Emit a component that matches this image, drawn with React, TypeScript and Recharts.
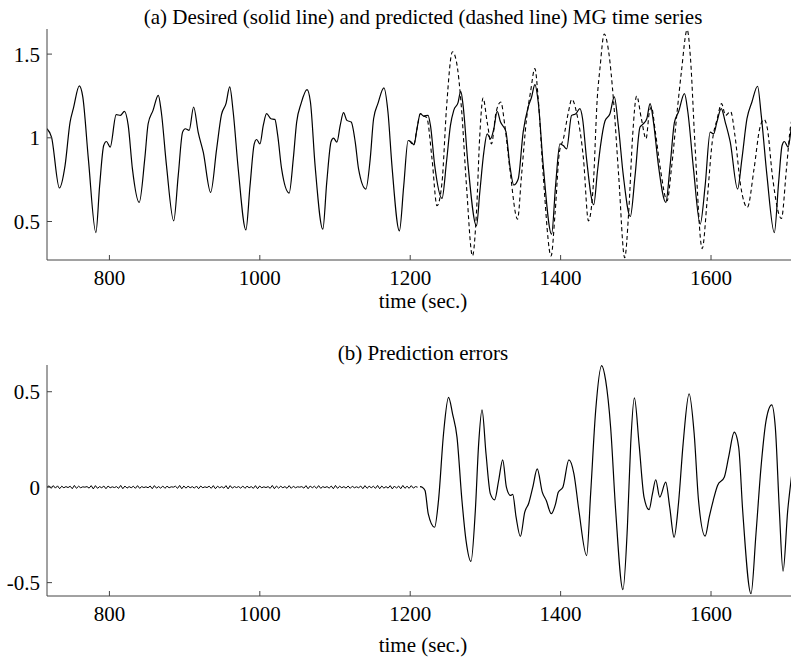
import { Line, LineChart, XAxis, YAxis } from "recharts";

const FONT = "'Liberation Serif', 'DejaVu Serif', serif";

const timeTicks = [800, 1000, 1200, 1400, 1600];
const seriesTicks = [0.5, 1, 1.5];
const errorTicks = [-0.5, 0, 0.5];

// desired MG series (solid), [time, value]
const desired: [number, number][] = [
  [717, 1.054], [723, 1.004], [733.5, 0.7], [741, 0.834], [747.7, 1.094], [752, 1.174],
  [760, 1.31], [764.6, 1.244], [772, 0.874], [782, 0.434], [787, 0.714], [792.4, 0.954],
  [796, 0.978], [801, 0.944], [809, 1.138], [814.6, 1.134], [820, 1.158], [825, 1.074],
  [830.6, 0.814], [839.6, 0.614], [847, 0.874], [851.5, 1.084], [858, 1.164], [865, 1.254],
  [869, 1.154], [875.9, 0.834], [885.5, 0.504], [891.5, 0.774], [897.3, 1.034], [901, 1.054],
  [906, 1.044], [912, 1.184], [918, 1.034], [924.8, 0.914], [934.6, 0.674], [942.6, 0.934],
  [949, 1.138], [955, 1.204], [960, 1.304], [964.6, 1.154], [971.3, 0.814], [981.5, 0.45],
  [987, 0.714], [992.6, 0.964], [995.8, 0.99], [1000.2, 0.964], [1004.6, 1.074], [1009, 1.144],
  [1014.8, 1.114], [1020, 1.11], [1023.8, 1.014], [1029, 0.814], [1039, 0.67], [1044.5, 0.874],
  [1049, 1.094], [1054.8, 1.204], [1062.8, 1.288], [1067.3, 1.214], [1073.5, 0.834], [1083.8, 0.454],
  [1089, 0.734], [1094.8, 0.978], [1098, 0.998], [1102.5, 0.974], [1106.9, 1.074], [1111.3, 1.15],
  [1115.8, 1.104], [1121.5, 1.094], [1126.9, 0.974], [1131.3, 0.814], [1141, 0.694], [1146.8, 0.874],
  [1151.3, 1.114], [1157, 1.204], [1165, 1.298], [1170.4, 1.154], [1175.7, 0.834], [1185.6, 0.444],
  [1191.4, 0.714], [1197.2, 0.984], [1201.6, 0.974], [1205, 0.958], [1209, 1.054], [1213.5, 1.144],
  [1217.9, 1.13], [1223.7, 1.134], [1226.9, 1.074], [1232.6, 0.834], [1242.3, 0.638], [1248.2, 0.854],
  [1253.5, 1.074], [1257.9, 1.164], [1263.6, 1.21], [1267.2, 1.278], [1270.3, 1.194], [1277, 0.834],
  [1288.1, 0.474], [1292.5, 0.674], [1297.9, 0.914], [1302.3, 1.024], [1306.8, 0.994], [1311.2, 1.054],
  [1315.6, 1.158], [1320.1, 1.094], [1327.2, 1.038], [1332.5, 0.834], [1337.8, 0.718], [1343.6, 0.754],
  [1350.2, 1.034], [1356.9, 1.184], [1361.4, 1.244], [1365.8, 1.318], [1370.2, 1.214], [1376.9, 0.834],
  [1388, 0.424], [1393.3, 0.714], [1399.1, 0.964], [1403.5, 0.954], [1408, 0.934], [1414.6, 1.134],
  [1420.3, 1.144], [1425.7, 1.174], [1429.2, 1.114], [1434.5, 0.874], [1444, 0.6], [1449, 0.8],
  [1453, 0.95], [1459, 1.1], [1465.6, 1.144], [1471.4, 1.244], [1476.7, 1.074], [1483.4, 0.774],
  [1492.7, 0.53], [1499, 0.774], [1505.6, 1.064], [1510.1, 1.084], [1514.6, 1.114], [1519, 1.204],
  [1523.5, 1.094], [1530.1, 0.834], [1539.9, 0.614], [1545.6, 0.834], [1551.4, 1.094], [1556.7, 1.154],
  [1564.7, 1.264], [1569.2, 1.154], [1576.7, 0.814], [1585.6, 0.484], [1592.2, 0.714], [1598.9, 1.034],
  [1603.4, 1.024], [1607.8, 1.094], [1613.6, 1.174], [1618.9, 1.094], [1625.6, 0.974], [1635.3, 0.694],
  [1641.1, 0.874], [1647.8, 1.114], [1654.4, 1.214], [1661.9, 1.308], [1666.8, 1.134], [1674.4, 0.774],
  [1684.2, 0.434], [1689.9, 0.734], [1694.5, 0.954], [1697.5, 0.978], [1702.5, 0.944], [1707, 1.064],
  [1712, 1.15],
];

// predicted series (dashed), only where it leaves the desired one
const predicted: [number, number][] = [
  [1199, 0.984], [1204.6, 0.958], [1209, 1.054], [1213.5, 1.144], [1217.9, 1.13], [1222, 1.12],
  [1229, 0.874], [1235.6, 0.594], [1242.3, 0.734], [1248.2, 1.174], [1256.2, 1.514], [1261.5, 1.454],
  [1268.2, 1.174], [1274.8, 0.714], [1282.8, 0.294], [1288.1, 0.554], [1292.5, 1.014], [1296.9, 1.238],
  [1302.3, 1.094], [1308.1, 0.964], [1313.8, 1.144], [1320.4, 1.214], [1325.8, 1.074], [1332.5, 0.814],
  [1342.7, 0.514], [1348, 0.774], [1354.7, 1.114], [1360, 1.274], [1365.8, 1.414], [1370.2, 1.234],
  [1376.9, 0.774], [1387.3, 0.294], [1392.7, 0.554], [1398.4, 0.914], [1403.7, 0.994], [1410.4, 1.154],
  [1414.9, 1.23], [1421.5, 1.144], [1430.4, 0.874], [1437, 0.504], [1443.4, 0.714], [1448.7, 1.234],
  [1452.3, 1.414], [1458, 1.62], [1463.9, 1.514], [1470.5, 1.214], [1477.2, 0.774], [1485.2, 0.284],
  [1490.5, 0.554], [1495.8, 1.014], [1501.1, 1.25], [1507.4, 1.114], [1513.6, 0.994], [1518, 1.154],
  [1520.7, 1.184], [1526, 1.034], [1532.7, 0.814], [1541.6, 0.624], [1547.3, 0.814], [1554.9, 1.154],
  [1560.6, 1.394], [1568.3, 1.645], [1572.7, 1.474], [1578.5, 0.974], [1588.3, 0.338], [1595, 0.634],
  [1601.6, 0.974], [1608.3, 1.114], [1614, 1.204], [1619.4, 1.134], [1626, 1.158], [1631.8, 1.014],
  [1639.4, 0.714], [1648.3, 0.584], [1657.2, 0.814], [1664.7, 1.054], [1670.5, 1.11], [1675, 1.054],
  [1681.6, 0.774], [1693.6, 0.518], [1700.3, 0.814], [1706, 1.074], [1712, 1.15],
];

// training-part error: tiny ripple, sampled every 2.8 s from t = 717
const rippleStart = 717;
const rippleStep = 2.8;
const ripple = [
  0.0, 0.007, -0.006, 0.008, -0.005, 0.007, -0.008, 0.005, -0.003, 0.003,
  -0.002, 0.005, -0.008, 0.009, -0.006, 0.005, -0.003, 0.002, 0.0, 0.003,
  -0.005, 0.008, -0.009, 0.008, -0.006, 0.003, -0.003, 0.006, -0.008, 0.006,
  -0.003, 0.002, -0.002, 0.003, -0.006, 0.009, -0.008, 0.006, -0.005, 0.003,
  -0.003, 0.005, -0.006, 0.008, -0.006, 0.003, -0.002, 0.002, -0.003, 0.006,
  -0.008, 0.008, -0.005, 0.003, -0.005, 0.006, -0.006, 0.005, -0.003, 0.002,
  0.0, 0.005, -0.006, 0.009, -0.008, 0.006, -0.005, 0.005, -0.003, 0.003,
  -0.005, 0.006, -0.008, 0.006, -0.003, 0.002, -0.002, 0.005, -0.006, 0.008,
  -0.008, 0.005, -0.003, 0.003, -0.005, 0.008, -0.009, 0.008, -0.005, 0.003,
  -0.002, 0.003, -0.005, 0.006, -0.006, 0.005, -0.003, 0.003, -0.006, 0.008,
  -0.008, 0.006, -0.003, 0.002, -0.002, 0.003, -0.006, 0.009, -0.008, 0.006,
  -0.005, 0.005, -0.003, 0.003, -0.006, 0.008, -0.006, 0.005, -0.003, 0.002,
  0.0, 0.003, -0.005, 0.008, -0.008, 0.006, -0.003, 0.005, -0.006, 0.008,
  -0.006, 0.003, -0.002, 0.003, -0.005, 0.006, -0.008, 0.009, -0.006, 0.005,
  -0.003, 0.003, -0.005, 0.006, -0.006, 0.005, -0.003, 0.002, -0.003, 0.006,
  -0.008, 0.008, -0.006, 0.005, -0.003, 0.005, -0.006, 0.009, -0.008, 0.006,
  -0.005, 0.003, -0.005, 0.008, -0.009, 0.006, -0.005, 0.006, -0.008, 0.009,
  -0.006, 0.005, -0.006, 0.008, -0.005, 0.003, 0.0,
];

// prediction error after training, [time, value]
const errors: [number, number][] = [
  [1213, 0.003], [1216, 0], [1219.7, -0.017], [1224, -0.14], [1232.4, -0.21], [1237.6, -0.07],
  [1244.3, 0.28], [1251, 0.47], [1256.3, 0.384], [1262.2, 0.262], [1268.8, -0.07], [1274.2, -0.279],
  [1280.8, -0.389], [1286.6, -0.122], [1291, 0.227], [1295.5, 0.405], [1300.8, 0.175], [1306.6, -0.035],
  [1312.3, -0.066], [1317.6, 0.035], [1323, 0.143], [1327.9, 0.0], [1333.2, -0.043], [1336.3, -0.038],
  [1340.8, -0.157], [1346.5, -0.258], [1352.3, -0.131], [1357.6, -0.084], [1363, 0.0], [1368.9, 0.096],
  [1375.6, -0.026], [1380.9, -0.07], [1387.6, -0.139], [1393.3, -0.087], [1396.9, -0.026], [1403, 0.0],
  [1411, 0.143], [1417.7, 0.07], [1424.3, -0.122], [1434.6, -0.358], [1439.9, -0.035], [1446.6, 0.4],
  [1454.6, 0.637], [1459.9, 0.559], [1466.5, 0.314], [1473.2, -0.122], [1482.9, -0.537], [1488.8, -0.209],
  [1493.2, 0.227], [1498.1, 0.468], [1504.3, 0.227], [1510.9, -0.052], [1517.6, -0.118], [1522.1, -0.035],
  [1526.5, 0.039], [1531.8, -0.052], [1539.8, 0.026], [1545.1, -0.105], [1550.9, -0.262], [1556.7, -0.087],
  [1562.9, 0.227], [1570.9, 0.489], [1577.6, 0.28], [1583.4, -0.07], [1592.2, -0.256], [1597.6, -0.157],
  [1602.9, -0.07], [1608.7, 0.009], [1617.6, 0.052], [1623.4, 0.157], [1630.9, 0.288], [1636.8, 0.209],
  [1642.1, -0.122], [1653.2, -0.558], [1659.8, -0.244], [1666.5, 0.105], [1673.2, 0.349], [1680.7, 0.431],
  [1685.5, 0.314], [1690.9, -0.122], [1695.8, -0.44], [1702, -0.122], [1706.4, 0.035], [1712, 0.2],
];

const rows = (pts: [number, number][]) => pts.map(([t, v]) => ({ t, v }));

const desiredRows = rows(desired);
const predictedRows = rows(predicted);
const rippleRows = ripple.map((v, i) => ({ t: rippleStart + i * rippleStep, v }));
const errorRows = rows(errors);

const tickStyle = { fontSize: 21, fill: "#000", style: { fontFamily: FONT } };
const AXIS = "#444";

function Panel({
  top,
  domain,
  yTicks,
  children,
}: {
  top: number;
  domain: [number, number];
  yTicks: number[];
  children: React.ReactNode;
}) {
  return (
    <LineChart width={800} height={top + 231 + 63} margin={{ top, right: 1, left: 0, bottom: 0 }}>
      <XAxis
        xAxisId="b"
        dataKey="t"
        type="number"
        domain={[717, 1717]}
        ticks={timeTicks}
        allowDataOverflow
        height={63}
        tickSize={-5}
        tickMargin={15}
        tick={tickStyle}
        stroke={AXIS}
      />
      <XAxis
        xAxisId="t"
        orientation="top"
        dataKey="t"
        type="number"
        domain={[717, 1717]}
        ticks={timeTicks}
        allowDataOverflow
        height={0}
        tickSize={-5}
        tick={false}
        stroke={AXIS}
      />
      <YAxis
        yAxisId="l"
        type="number"
        domain={domain}
        ticks={yTicks}
        allowDataOverflow
        width={47}
        tickSize={-5}
        tickMargin={12}
        tick={tickStyle}
        stroke={AXIS}
      />
      {children}
    </LineChart>
  );
}

const labelStyle = { fontFamily: FONT, fontSize: 21 };

export default function App() {
  return (
    <div
      style={{
        position: "absolute",
        left: 0,
        top: 0,
        width: 791,
        height: 659,
        overflow: "hidden",
        background: "#fff",
      }}
    >
      <div style={{ position: "absolute", left: 0, top: -2 }}>
        <Panel top={31} domain={[0.27, 1.65]} yTicks={seriesTicks}>
          <Line
            xAxisId="b"
            yAxisId="l"
            data={predictedRows}
            dataKey="v"
            type="monotone"
            dot={false}
            stroke="#000"
            strokeWidth={1.1}
            strokeDasharray="4 3"
            isAnimationActive={false}
          />
          <Line
            xAxisId="b"
            yAxisId="l"
            data={desiredRows}
            dataKey="v"
            type="monotone"
            dot={false}
            stroke="#000"
            strokeWidth={1.2}
            isAnimationActive={false}
          />
        </Panel>
      </div>
      <div style={{ position: "absolute", left: 0, top: 320 }}>
        <Panel top={45} domain={[-0.57, 0.64]} yTicks={errorTicks}>
          <Line
            xAxisId="b"
            yAxisId="l"
            data={rippleRows}
            dataKey="v"
            type="linear"
            dot={false}
            stroke="#000"
            strokeWidth={1}
            isAnimationActive={false}
          />
          <Line
            xAxisId="b"
            yAxisId="l"
            data={errorRows}
            dataKey="v"
            type="monotone"
            dot={false}
            stroke="#000"
            strokeWidth={1.2}
            isAnimationActive={false}
          />
        </Panel>
      </div>
      <svg
        width={791}
        height={659}
        style={{ position: "absolute", left: 0, top: 0, pointerEvents: "none" }}
      >
        <text x={423} y={24} textAnchor="middle" style={labelStyle}>
          (a) Desired (solid line) and predicted (dashed line) MG time series
        </text>
        <text x={423} y={308} textAnchor="middle" style={labelStyle}>
          time (sec.)
        </text>
        <text x={423} y={360} textAnchor="middle" style={labelStyle}>
          (b) Prediction errors
        </text>
        <text x={423} y={652} textAnchor="middle" style={labelStyle}>
          time (sec.)
        </text>
      </svg>
    </div>
  );
}
